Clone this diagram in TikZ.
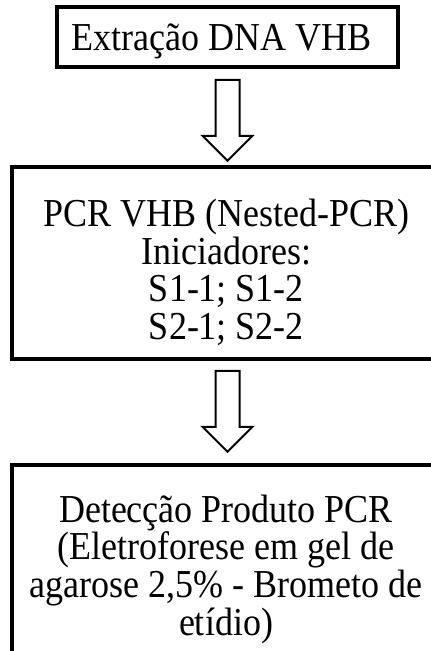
\documentclass[tikz,border=0pt]{standalone}
\usepackage{fontspec}
\setmainfont{Liberation Serif}
\usepackage{tikz}
\usetikzlibrary{positioning}

\begin{document}
\begin{tikzpicture}
\tikzstyle{caixa}=[rectangle, draw=black, line width=3.5pt,
	inner sep=0pt, minimum width=431pt,
]
\tikzstyle{texto}=[align=center, inner sep=0pt, yscale=1.1, transform shape,
	font=\fontsize{36pt}{34.1pt}\selectfont,
]
\tikzstyle{seta}=[draw=black, fill=white, line width=2pt]
\useasboundingbox (0,0) rectangle (431pt,-651pt);
\clip (0,0) rectangle (431pt,-651pt);
\node[caixa, minimum width=341pt, minimum height=60pt] (extracao) at (227.5pt,-37pt) {};
\node[caixa, minimum height=192pt] (pcr) at (227.5pt,-263pt) {};
\node[caixa, minimum height=230pt, anchor=north] (deteccao) at (227.5pt,-463pt) {};
\node[texto, anchor=base] (extracaotxt) at (221.5pt,-50pt) {Extração DNA VHB};
\node[texto, anchor=base] (pcrtxt) at (226.5pt,-339.5pt)
	{PCR VHB (Nested-PCR)\\Iniciadores:\\S1-1; S1-2\\S2-1; S2-2};
\node[texto, anchor=base] (deteccaotxt) at (226pt,-635pt)
	{Detecção Produto PCR\\(Eletroforese em gel de\\agarose 2,5\% - Brometo de\\etídio)};
\coordinate[below=11pt of extracao] (s1);
\coordinate[below=10pt of pcr] (s2);
\path[seta] (s1) ++(-12pt,0) -- ++(0,-56pt) -- ++(-13pt,0) -- ++(25pt,-25pt)
	-- ++(25pt,25pt) -- ++(-13pt,0) -- ++(0,56pt) -- cycle;
\path[seta] (s2) ++(-12pt,0) -- ++(0,-56pt) -- ++(-13pt,0) -- ++(25pt,-25pt)
	-- ++(25pt,25pt) -- ++(-13pt,0) -- ++(0,56pt) -- cycle;

\end{tikzpicture}
\end{document}
